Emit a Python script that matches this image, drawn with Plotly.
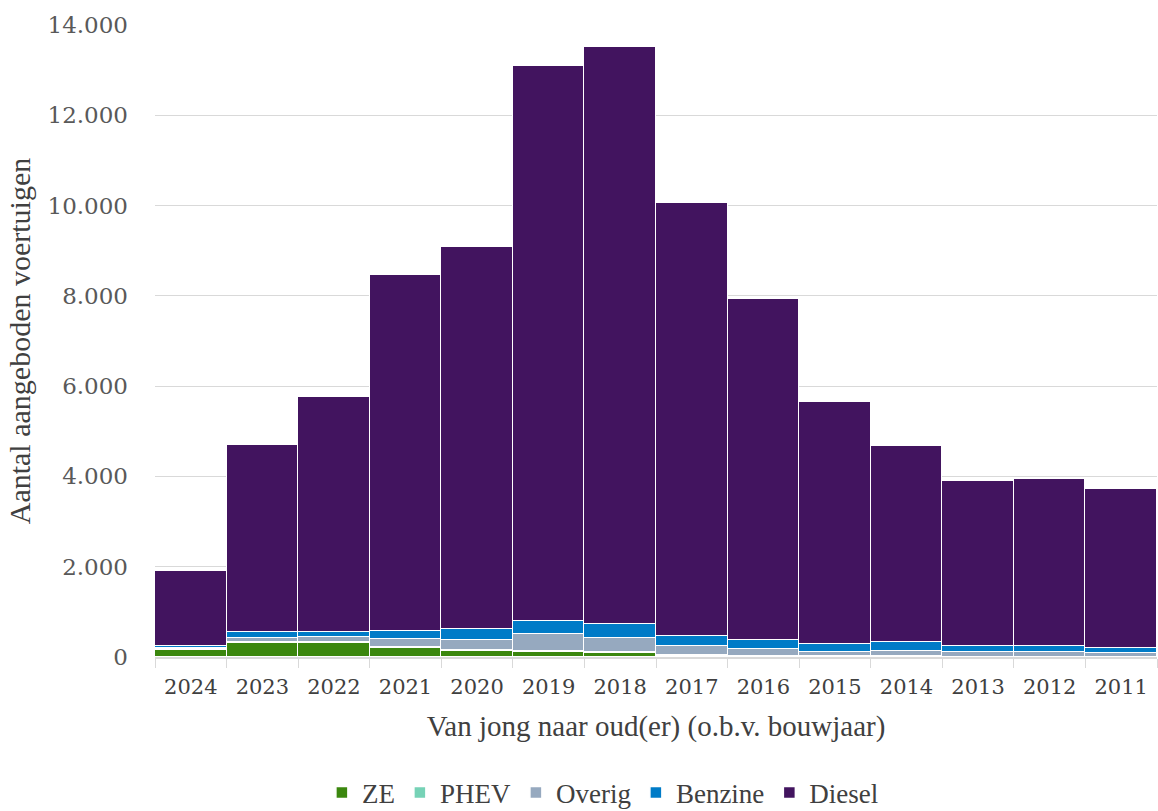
import plotly.graph_objects as go

years = ["2024", "2023", "2022", "2021", "2020", "2019", "2018", "2017", "2016", "2015", "2014", "2013", "2012", "2011"]
ze      = [150, 315, 305, 195, 130, 120, 80, 20, 10, 10, 10, 5, 5, 5]
phev    = [30, 20, 20, 20, 20, 20, 20, 15, 10, 10, 10, 5, 5, 5]
overig  = [30, 90, 110, 190, 230, 370, 320, 215, 165, 100, 120, 100, 100, 70]
benzine = [35, 125, 125, 180, 235, 295, 310, 220, 195, 160, 185, 140, 140, 115]
totals  = [1910, 4700, 5760, 8460, 9080, 13100, 13510, 10060, 7930, 5650, 4680, 3900, 3950, 3720]
diesel  = [t - a - b - c - d for t, a, b, c, d in zip(totals, ze, phev, overig, benzine)]

series = [
    ("ZE", ze, "#3b870e"),
    ("PHEV", phev, "#76d2b6"),
    ("Overig", overig, "#96a9bf"),
    ("Benzine", benzine, "#007bc7"),
    ("Diesel", diesel, "#42145f"),
]

text_font = "Liberation Serif"
num_font = "DejaVu Serif"
fig = go.Figure()
for name, vals, col in series:
    fig.add_trace(go.Bar(
        x=years, y=vals, name=name,
        marker=dict(color=col, line=dict(color="white", width=1.5)),
    ))

fig.update_layout(
    barmode="stack",
    bargap=0,
    width=1158, height=811,
    margin=dict(l=155, r=1, t=25, b=154, autoexpand=False),
    paper_bgcolor="white", plot_bgcolor="white",
    separators=",.",
    font=dict(family=text_font, color="#404040", size=28),
    showlegend=True,
    legend=dict(orientation="h", x=0.447, xanchor="center", y=-0.215, yanchor="middle",
                font=dict(size=27, color="#404040", family=text_font), traceorder="normal",
                itemwidth=30, tracegroupgap=0),
    xaxis=dict(
        automargin=False,
        title=dict(text="Van jong naar oud(er) (o.b.v. bouwjaar)",
                   font=dict(size=29, color="#404040", family=text_font), standoff=18),
        tickfont=dict(size=21, color="#404040", family=num_font),
        showline=True, linecolor="#d9d9d9", linewidth=1.5,
        ticks="outside", tickson="boundaries", ticklen=9, tickcolor="#d9d9d9",
        ticklabelstandoff=10,
    ),
    yaxis=dict(
        automargin=False,
        title=dict(text="Aantal aangeboden voertuigen",
                   font=dict(size=30, color="#404040", family=text_font), standoff=8),
        range=[0, 14000], dtick=2000, tickformat=",d",
        tickfont=dict(size=23, color="#595959", family=num_font),
        showgrid=True, gridcolor="#d9d9d9", gridwidth=1,
        zeroline=False,
        ticklabelstandoff=26,
    ),
)

# remove the default 8px body margin so the figure fills the window exactly
fig.write_html("out.html",
               config={"displayModeBar": False},
               post_script="document.body.style.margin='0';document.body.style.overflow='hidden';")
